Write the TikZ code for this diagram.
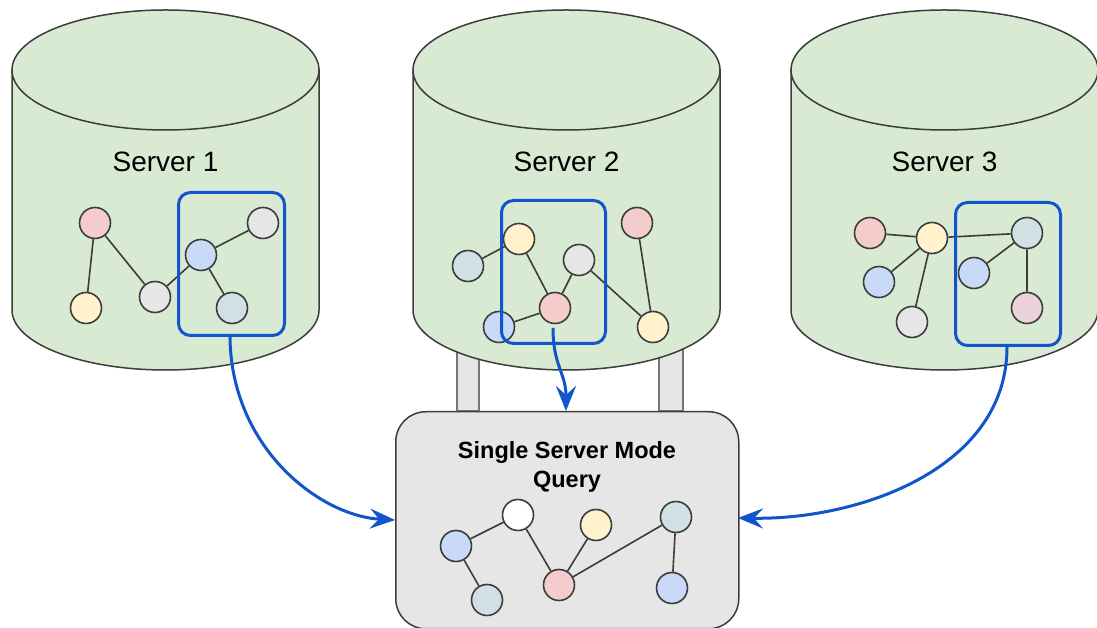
\documentclass[tikz,border=0pt]{standalone}
\usepackage{fontspec}
\setmainfont{Liberation Sans}
\usetikzlibrary{arrows.meta}
\definecolor{cylfill}{HTML}{D9EAD3}
\definecolor{strk}{HTML}{3C3C3C}
\definecolor{cpink}{HTML}{F4CCCC}
\definecolor{cyellow}{HTML}{FFF2CC}
\definecolor{cblue}{HTML}{C9DAF8}
\definecolor{cgray}{HTML}{E6E6E6}
\definecolor{cteal}{HTML}{D0E0E3}
\definecolor{cmauve}{HTML}{EAD1DC}
\definecolor{selblue}{HTML}{1155CC}
\definecolor{legfill}{HTML}{E6E6E6}
\tikzset{
  gnode/.style={circle, draw=strk, line width=1.6pt, minimum size=31pt, inner sep=0pt},
  gedge/.style={draw=strk, line width=1.6pt},
  selbox/.style={draw=selblue, line width=3pt, rounded corners=12pt},
  cylstyle/.style={draw=strk, line width=1.5pt, fill=cylfill},
  flow/.style={draw=selblue, line width=3pt, -{Stealth[length=25pt,width=20pt,inset=9pt]}},
  slabel/.style={font=\fontsize{28}{33}\selectfont},
  qlabel/.style={font=\bfseries\fontsize{23.5}{28.5}\selectfont, align=center},
}
\newcommand{\cyl}[1]{%
  \path[cylstyle] (#1-153.5,558) -- (#1-153.5,318) arc[start angle=180, end angle=360, x radius=153.5, y radius=60] -- (#1+153.5,558) -- cycle;
  \path[cylstyle] (#1,558) ellipse[x radius=153.5, y radius=60];
}
\begin{document}
\begin{tikzpicture}[x=1pt,y=1pt]
\useasboundingbox (0,0) rectangle (1097,628);
% legs
\path[fill=legfill, draw=strk!70, line width=1.2pt] (457,217) rectangle (479,300);
\path[fill=legfill, draw=strk!70, line width=1.2pt] (659,217) rectangle (683,300);
% cylinders
\cyl{165.5}
\cyl{566.5}
\cyl{944.5}
\node[slabel] (l1) at (165.5,466) {Server 1};
\node[slabel] (l2) at (566.5,466) {Server 2};
\node[slabel] (l3) at (944.5,466) {Server 3};
% query box
\node[draw=strk, line width=1.5pt, fill=cgray, rounded corners=30pt, minimum width=343pt, minimum height=217pt, anchor=north west] (q) at (395,217) {};
\node[qlabel] (qt) at (567,161) {Single Server Mode\\Query};
% server 1 graph
\node[gnode, fill=cpink] (a1) at (95,405) {};
\node[gnode, fill=cyellow] (a2) at (86,320) {};
\node[gnode, fill=cgray] (a3) at (155,331) {};
\node[gnode, fill=cblue] (a4) at (201,373) {};
\node[gnode, fill=cgray] (a5) at (263,405) {};
\node[gnode, fill=cteal] (a6) at (232,320) {};
\path[gedge] (a1)--(a2) (a1)--(a3) (a3)--(a4) (a4)--(a5) (a4)--(a6);
\node[selbox, minimum width=106pt, minimum height=143pt, anchor=south west] (b1) at (177,291) {};
% server 2 graph
\node[gnode, fill=cyellow] (c1) at (519,389) {};
\node[gnode, fill=cteal] (c2) at (468,362) {};
\node[gnode, fill=cgray] (c3) at (579,368) {};
\node[gnode, fill=cpink] (c4) at (555,320) {};
\node[gnode, fill=cblue] (c5) at (499,301) {};
\node[gnode, fill=cpink] (c6) at (637,405) {};
\node[gnode, fill=cyellow] (c7) at (653,301) {};
\path[gedge] (c2)--(c1) (c1)--(c4) (c4)--(c3) (c4)--(c5) (c3)--(c7) (c6)--(c7);
\node[selbox, minimum width=104pt, minimum height=143pt, anchor=south west] (b2) at (500,283) {};
% server 3 graph
\node[gnode, fill=cpink] (d1) at (870,395) {};
\node[gnode, fill=cyellow] (d2) at (932,390) {};
\node[gnode, fill=cblue] (d3) at (879,346) {};
\node[gnode, fill=cgray] (d4) at (912,306) {};
\node[gnode, fill=cteal] (d5) at (1027,395) {};
\node[gnode, fill=cblue] (d6) at (974,355) {};
\node[gnode, fill=cmauve] (d7) at (1027,320) {};
\path[gedge] (d1)--(d2) (d2)--(d3) (d2)--(d4) (d2)--(d5) (d5)--(d6) (d5)--(d7);
\node[selbox, minimum width=105pt, minimum height=143pt, anchor=south west] (b3) at (954,281) {};
% query graph
\node[gnode, fill=white] (e1) at (518,113) {};
\node[gnode, fill=cblue] (e2) at (456,82) {};
\node[gnode, fill=cteal] (e3) at (487,28) {};
\node[gnode, fill=cpink] (e4) at (559,43) {};
\node[gnode, fill=cyellow] (e5) at (596,103) {};
\node[gnode, fill=cteal] (e6) at (676,111) {};
\node[gnode, fill=cblue] (e7) at (672,40) {};
\path[gedge] (e2)--(e1) (e2)--(e3) (e1)--(e4) (e4)--(e5) (e4)--(e6) (e6)--(e7);
% flows
\coordinate (s1) at ([xshift=-1.5pt]b1.south);
\coordinate (t1) at (395,108);
\draw[flow] (s1) .. controls (231,180) and (320,112) .. (t1);
\coordinate (s2) at (553,300);
\coordinate (t2) at (566,217);
\draw[flow] (s2) .. controls (553,262) and (566,255) .. (t2);
\coordinate (s3) at (1007,281);
\coordinate (t3) at (738,110);
\draw[flow] (s3) .. controls (1007,160) and (860,108) .. (t3);
\end{tikzpicture}
\end{document}
